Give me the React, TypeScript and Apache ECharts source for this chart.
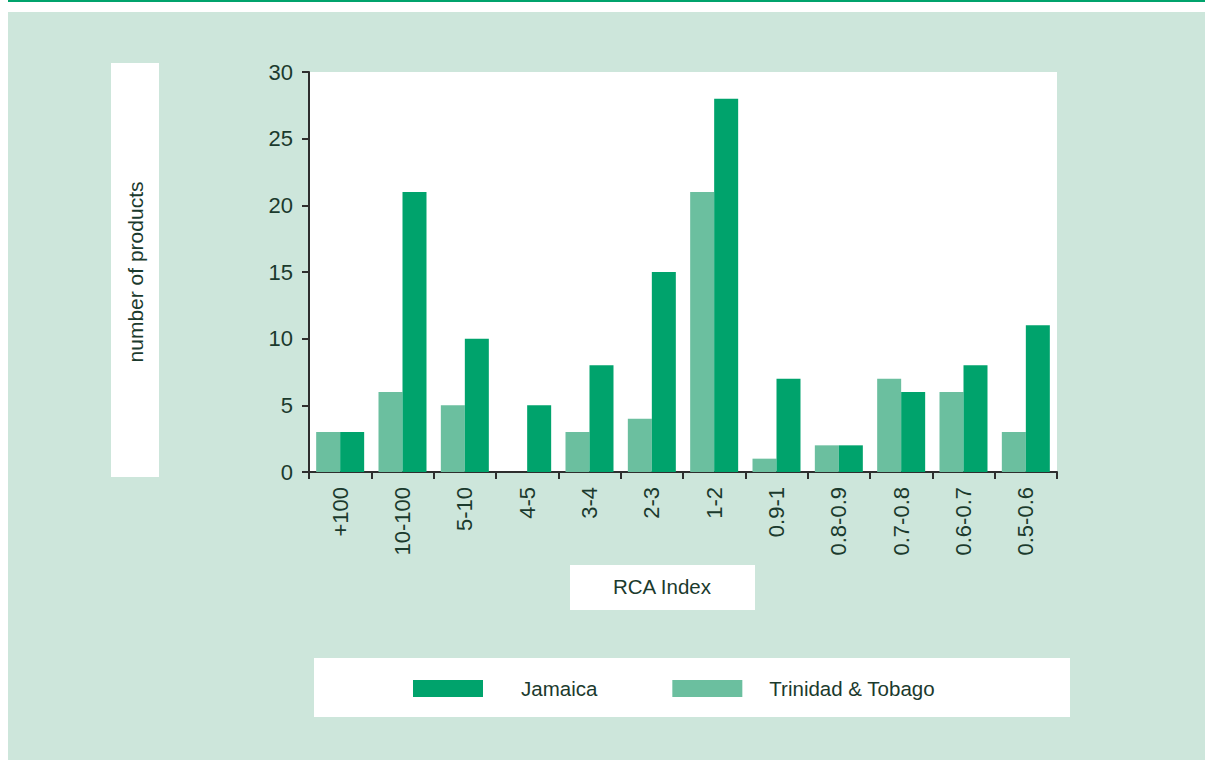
import React, { useEffect, useRef } from 'react';
import * as echarts from 'echarts';

const categories = ['+100', '10-100', '5-10', '4-5', '3-4', '2-3', '1-2', '0.9-1', '0.8-0.9', '0.7-0.8', '0.6-0.7', '0.5-0.6'];
const trinidadTobago = [3, 6, 5, 0, 3, 4, 21, 1, 2, 7, 6, 3];
const jamaica = [3, 21, 10, 5, 8, 15, 28, 7, 2, 6, 8, 11];
const legendNames = ['Jamaica', 'Trinidad & Tobago'];

const DARK = '#00a36c';
const LIGHT = '#6bbf9f';
const BG = '#cde6db';
const TEXT = '#1b3a2d';
const AXIS = '#2e2e2e';
const REG = "'Liberation Sans', Arial, sans-serif";

export default function App() {
  const ref = useRef<HTMLDivElement>(null);
  useEffect(() => {
    const chart = echarts.init(ref.current!, null, { renderer: 'svg' });
    chart.setOption({
      animation: false,
      backgroundColor: '#ffffff',
      graphic: [
        { type: 'rect', z: -20, shape: { x: 8, y: 12, width: 1197, height: 748 }, style: { fill: BG } },
        { type: 'rect', z: -20, shape: { x: 8, y: 0, width: 1197, height: 2 }, style: { fill: DARK } },
        { type: 'rect', z: -10, shape: { x: 111, y: 63, width: 48, height: 414 }, style: { fill: '#ffffff' } },
        { type: 'rect', z: -10, shape: { x: 570, y: 565, width: 185, height: 45 }, style: { fill: '#ffffff' } },
        { type: 'rect', z: -10, shape: { x: 314, y: 658, width: 756, height: 59 }, style: { fill: '#ffffff' } },
      ],
      grid: {
        left: 309,
        top: 72,
        width: 748,
        height: 400,
        show: true,
        backgroundColor: '#ffffff',
        borderWidth: 0,
        containLabel: false,
      },
      legend: {
        data: [
          { name: legendNames[0], textStyle: { padding: [0, 0, 0, 33] } },
          { name: legendNames[1], textStyle: { padding: [0, 0, 0, 22] } },
        ],
        left: 413,
        top: 678,
        padding: 0,
        itemWidth: 70,
        itemHeight: 17,
        itemGap: 75,
        icon: 'rect',
        textStyle: { fontFamily: REG, fontSize: 20.5, color: TEXT },
      },
      xAxis: {
        type: 'category',
        data: categories,
        name: 'RCA Index',
        nameLocation: 'middle',
        nameGap: 104,
        nameTextStyle: { fontFamily: REG, fontSize: 20.5, color: TEXT, padding: [0, 42, 0, 0] },
        axisLine: { show: true, lineStyle: { color: AXIS, width: 2 } },
        axisTick: { show: true, length: 7, alignWithLabel: false, lineStyle: { color: AXIS, width: 2 } },
        axisLabel: { rotate: 90, margin: 15, fontFamily: REG, fontSize: 22, color: TEXT, interval: 0 },
        splitLine: { show: false },
      },
      yAxis: {
        type: 'value',
        min: 0,
        max: 30,
        interval: 5,
        name: 'number of products',
        nameLocation: 'middle',
        nameRotate: 90,
        nameGap: 163,
        nameTextStyle: { fontFamily: REG, fontSize: 21, color: TEXT },
        axisLine: { show: true, lineStyle: { color: AXIS, width: 2 } },
        axisTick: { show: true, length: 7, lineStyle: { color: AXIS, width: 2 } },
        axisLabel: { margin: 16, fontFamily: REG, fontSize: 22, color: TEXT },
        splitLine: { show: false },
      },
      series: [
        {
          name: 'Trinidad & Tobago',
          type: 'bar',
          data: trinidadTobago,
          itemStyle: { color: LIGHT },
          barGap: '0%',
          barCategoryGap: '23%',
        },
        {
          name: 'Jamaica',
          type: 'bar',
          data: jamaica,
          itemStyle: { color: DARK },
          barGap: '0%',
          barCategoryGap: '23%',
        },
      ],
    });
    return () => chart.dispose();
  }, []);
  return (
    <div
      ref={ref}
      style={{ position: 'absolute', left: 0, top: 0, width: 1205, height: 760 }}
    />
  );
}
